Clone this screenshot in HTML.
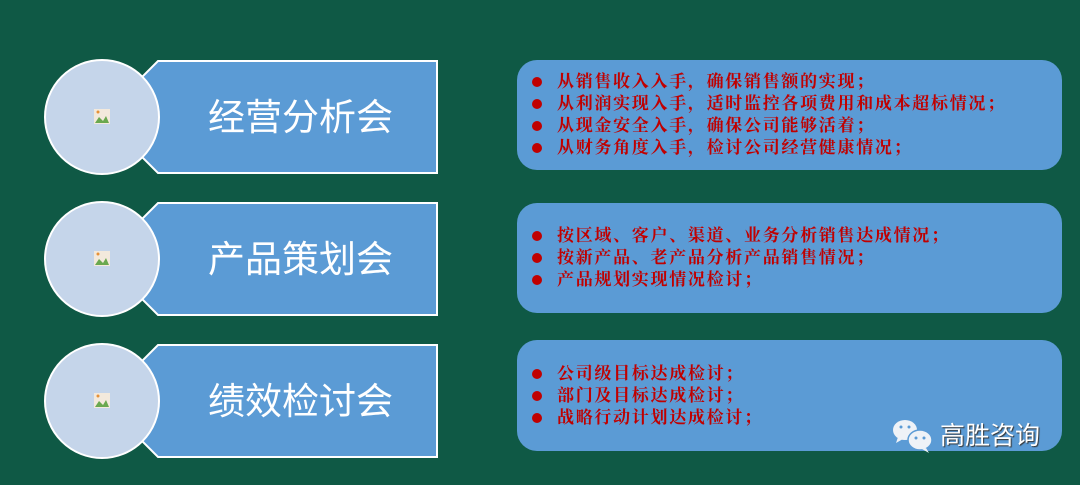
<!DOCTYPE html>
<html><head><meta charset="utf-8"><style>
body{margin:0;width:1080px;height:485px;background:#0f5945;position:relative;overflow:hidden;font-family:"Liberation Serif","Noto Serif CJK SC",serif}
.rb{position:absolute;left:517px;width:545px;background:#5b9bd5;border-radius:20px}
.ln{position:absolute;left:557px;font-size:17px;line-height:22px;color:#c00000;font-weight:bold;letter-spacing:1.7px;white-space:nowrap}
.dot{position:absolute;left:532px;width:10px;height:10px;border-radius:50%;background:#c00000}
.lab{position:absolute;font-family:"Liberation Sans","Noto Sans CJK SC",sans-serif;color:#fff;font-size:37px;left:208px;width:200px;letter-spacing:0px}
</style></head><body>
<svg width="1080" height="485" style="position:absolute;left:0;top:0">
<g id="r">
<polygon points="158,61 437,61 437,173 158,173 140,155 140,79" fill="#5b9bd5" stroke="#fff" stroke-width="2"/>
<circle cx="102" cy="117" r="57" fill="#c5d5ea" stroke="#fff" stroke-width="2"/>
<rect x="94" y="109" width="16" height="15" fill="#f3e9dc"/>
<path d="M95,123 L99,117 L103,121 L106,116 L109,123 Z" fill="#6aa84f"/>
<circle cx="98" cy="112" r="1.5" fill="#e69138"/>
</g>
<use href="#r" y="142"/>
<use href="#r" y="284"/>
</svg>
<div class="lab" style="top:87px">经营分析会</div>
<div class="lab" style="top:229px">产品策划会</div>
<div class="lab" style="top:371px">绩效检讨会</div>

<div class="rb" style="top:60px;height:110px"></div>
<div class="rb" style="top:203px;height:110px"></div>
<div class="rb" style="top:340px;height:111px"></div>

<div class="dot" style="top:77px"></div><div class="ln" style="top:71px">从销售收入入手，确保销售额的实现；</div>
<div class="dot" style="top:99px"></div><div class="ln" style="top:93px">从利润实现入手，适时监控各项费用和成本超标情况；</div>
<div class="dot" style="top:121px"></div><div class="ln" style="top:115px">从现金安全入手，确保公司能够活着；</div>
<div class="dot" style="top:143px"></div><div class="ln" style="top:137px">从财务角度入手，检讨公司经营健康情况；</div>

<div class="dot" style="top:231px"></div><div class="ln" style="top:225px">按区域、客户、渠道、业务分析销售达成情况；</div>
<div class="dot" style="top:253px"></div><div class="ln" style="top:247px">按新产品、老产品分析产品销售情况；</div>
<div class="dot" style="top:275px"></div><div class="ln" style="top:269px">产品规划实现情况检讨；</div>

<div class="dot" style="top:369px"></div><div class="ln" style="top:363px">公司级目标达成检讨；</div>
<div class="dot" style="top:391px"></div><div class="ln" style="top:385px">部门及目标达成检讨；</div>
<div class="dot" style="top:413px"></div><div class="ln" style="top:407px">战略行动计划达成检讨；</div>

<svg width="60" height="40" style="position:absolute;left:890px;top:418px">
<ellipse cx="15" cy="12" rx="12" ry="10" fill="#eef2f7"/>
<path d="M8,19 L6,25 L13,21 Z" fill="#eef2f7"/>
<ellipse cx="30" cy="22" rx="12" ry="10" fill="#eef2f7" stroke="#5b9bd5" stroke-width="1.5"/>
<path d="M36,30 L39,35 L32,31 Z" fill="#eef2f7"/>
<circle cx="11" cy="9" r="1.5" fill="#5b9bd5"/><circle cx="19" cy="9" r="1.5" fill="#5b9bd5"/>
<circle cx="26" cy="20" r="1.5" fill="#5b9bd5"/><circle cx="34" cy="20" r="1.5" fill="#5b9bd5"/>
</svg>
<div style="position:absolute;left:940px;top:421px;font-family:'Liberation Sans','Noto Sans CJK SC',sans-serif;font-size:25px;color:#fff;text-shadow:1px 1px 1px #333;line-height:30px">高胜咨询</div>
</body></html>
